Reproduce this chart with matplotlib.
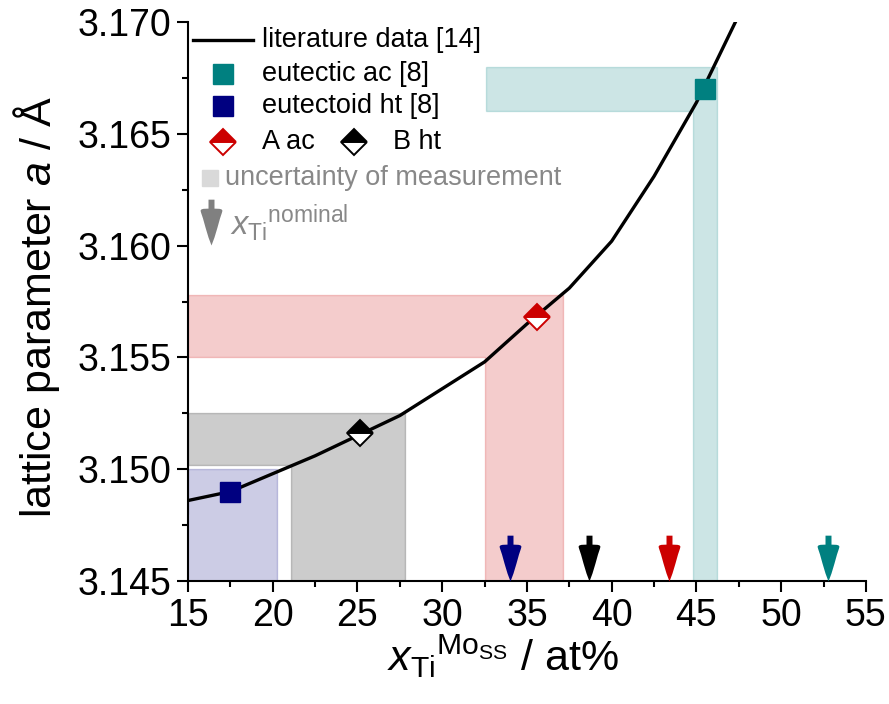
import numpy as np
import matplotlib
matplotlib.use("Agg")
import matplotlib.pyplot as plt
from matplotlib.path import Path
from matplotlib.patches import Polygon
from matplotlib.ticker import MultipleLocator, FormatStrFormatter

plt.rcParams['font.family'] = ['Liberation Sans', 'DejaVu Sans']
plt.rcParams['mathtext.fontset'] = 'custom'
plt.rcParams['mathtext.rm'] = 'Liberation Sans'
plt.rcParams['mathtext.it'] = 'Liberation Sans:italic'

# literature curve a(x_Ti)
lit_x = [15.0, 17.5, 20.0, 22.5, 25.0, 27.5, 30.0, 32.5, 35.0, 37.5, 40.0, 42.5, 45.0, 47.3]
lit_a = [3.1486, 3.1490, 3.1498, 3.1506, 3.1515, 3.1524, 3.1536, 3.1548, 3.1565, 3.1581,
         3.1602, 3.1631, 3.1664, 3.1700]

# measured points: eutectic ac, eutectoid ht, A ac, B ht
names = ["eutectic ac", "eutectoid ht", "A ac", "B ht"]
meas_x = [45.5, 17.5, 35.6, 25.15]
meas_a = [3.1670, 3.1490, 3.15679, 3.15161]
colors = ["#008080", "#000080", "#cc0000", "#000000"]

# uncertainty bands: x range, a range, left end of the horizontal band
unc_x_lo = [44.8, 14.75, 32.5, 21.1]
unc_x_hi = [46.2, 20.25, 37.1, 27.8]
unc_a_lo = [3.1660, 3.1480, 3.1550, 3.1502]
unc_a_hi = [3.1680, 3.1500, 3.1578, 3.1525]
band_start = [32.6, 15.0, 15.0, 15.0]

# nominal compositions (arrows on the x axis)
nominal_x = [34.0, 38.66, 43.4, 52.76]
nominal_c = ["#000080", "#000000", "#cc0000", "#008080"]

Y0 = 3.145

# arrow marker, tip at the origin
rv = [(0, 0), (3, 8), (6, 18), (8.5, 27), (10.5, 33), (11, 35), (10, 36.3),
      (8, 36.8), (3, 37), (3, 46)]
verts = rv + [(-x, y) for x, y in rv[::-1]]
arrow = Path(verts + [verts[0]], closed=True)

fig = plt.figure(figsize=(8.89, 7.04), dpi=100)
ax = fig.add_axes([0.2115, 0.1747, 0.7625, 0.794])

for i in range(len(names)):
    poly = [(band_start[i], unc_a_lo[i]), (unc_x_lo[i], unc_a_lo[i]), (unc_x_lo[i], Y0),
            (unc_x_hi[i], Y0), (unc_x_hi[i], unc_a_hi[i]), (band_start[i], unc_a_hi[i])]
    ax.add_patch(Polygon(poly, closed=True, facecolor=colors[i], edgecolor=colors[i],
                         alpha=0.2, lw=1, zorder=1))

ax.plot(lit_x, lit_a, color="black", lw=2.4, zorder=3)

ax.plot(meas_x[0], meas_a[0], "s", ms=14, color=colors[0], mec=colors[0], zorder=4)
ax.plot(meas_x[1], meas_a[1], "s", ms=14, color=colors[1], mec=colors[1], zorder=4)
for i in (2, 3):
    ax.plot(meas_x[i], meas_a[i], "D", ms=13.5, fillstyle="top", mfc=colors[i],
            mfcalt="white", mec=colors[i], mew=1.4, zorder=4)

for x, c in zip(nominal_x, nominal_c):
    ax.plot([x], [Y0], marker=arrow, ms=66, color=c, ls="none", mew=0,
            clip_on=False, zorder=5)

ax.set_xlim(15, 55)
ax.set_ylim(3.145, 3.170)
ax.xaxis.set_major_locator(MultipleLocator(5))
ax.xaxis.set_minor_locator(MultipleLocator(2.5))
ax.yaxis.set_major_locator(MultipleLocator(0.005))
ax.yaxis.set_minor_locator(MultipleLocator(0.0025))
ax.yaxis.set_major_formatter(FormatStrFormatter("%.3f"))
for s in ("top", "right"):
    ax.spines[s].set_visible(False)
for s in ("left", "bottom"):
    ax.spines[s].set_linewidth(1.5)
ax.tick_params(which="major", direction="out", length=8, width=1.5, labelsize=27, pad=4)
ax.tick_params(which="minor", direction="out", length=4, width=1.5)

ax.set_xlabel(r"$x_{\mathrm{Ti}}{}^{\mathrm{Mo}_{\mathrm{SS}}}$ / at%", fontsize=31)
ax.xaxis.set_label_coords(0.465, -0.093)
ax.set_ylabel(r"lattice parameter $a$ / Å", fontsize=31)
ax.yaxis.set_label_coords(-0.186, 0.49)

# legend built by hand in axes coordinates
T = ax.transAxes
fs = 19.5
grey = "#888888"
ax.plot([0.0074, 0.0959], [0.968, 0.968], color="black", lw=2.4, transform=T, clip_on=False)
ax.text(0.109, 0.968, "literature data [14]", fontsize=fs, va="center", transform=T)
ax.plot(0.0516, 0.907, "s", ms=14, color=colors[0], transform=T)
ax.text(0.109, 0.907, "eutectic ac [8]", fontsize=fs, va="center", transform=T)
ax.plot(0.0516, 0.850, "s", ms=14, color=colors[1], transform=T)
ax.text(0.109, 0.850, "eutectoid ht [8]", fontsize=fs, va="center", transform=T)
ax.plot(0.0516, 0.785, "D", ms=13.5, fillstyle="top", mfc=colors[2], mfcalt="white",
        mec=colors[2], mew=1.4, transform=T)
ax.text(0.109, 0.785, "A ac", fontsize=fs, va="center", transform=T)
ax.plot(0.245, 0.785, "D", ms=13.5, fillstyle="top", mfc=colors[3], mfcalt="white",
        mec=colors[3], mew=1.4, transform=T)
ax.text(0.302, 0.785, "B ht", fontsize=fs, va="center", transform=T)
ax.plot(0.0324, 0.721, "s", ms=12, color="#d9d9d9", transform=T)
ax.text(0.0546, 0.721, "uncertainty of measurement", fontsize=fs, color=grey,
        va="center", transform=T)
ax.plot([0.034], [0.601], marker=arrow, ms=66, color="#808080", mew=0, ls="none",
        transform=T, clip_on=False)
ax.text(0.062, 0.64, r"$x_{\mathrm{Ti}}{}^{\mathrm{nominal}}$", fontsize=fs + 4, color=grey,
        va="center", transform=T)

fig.savefig("out.png", dpi=100)
